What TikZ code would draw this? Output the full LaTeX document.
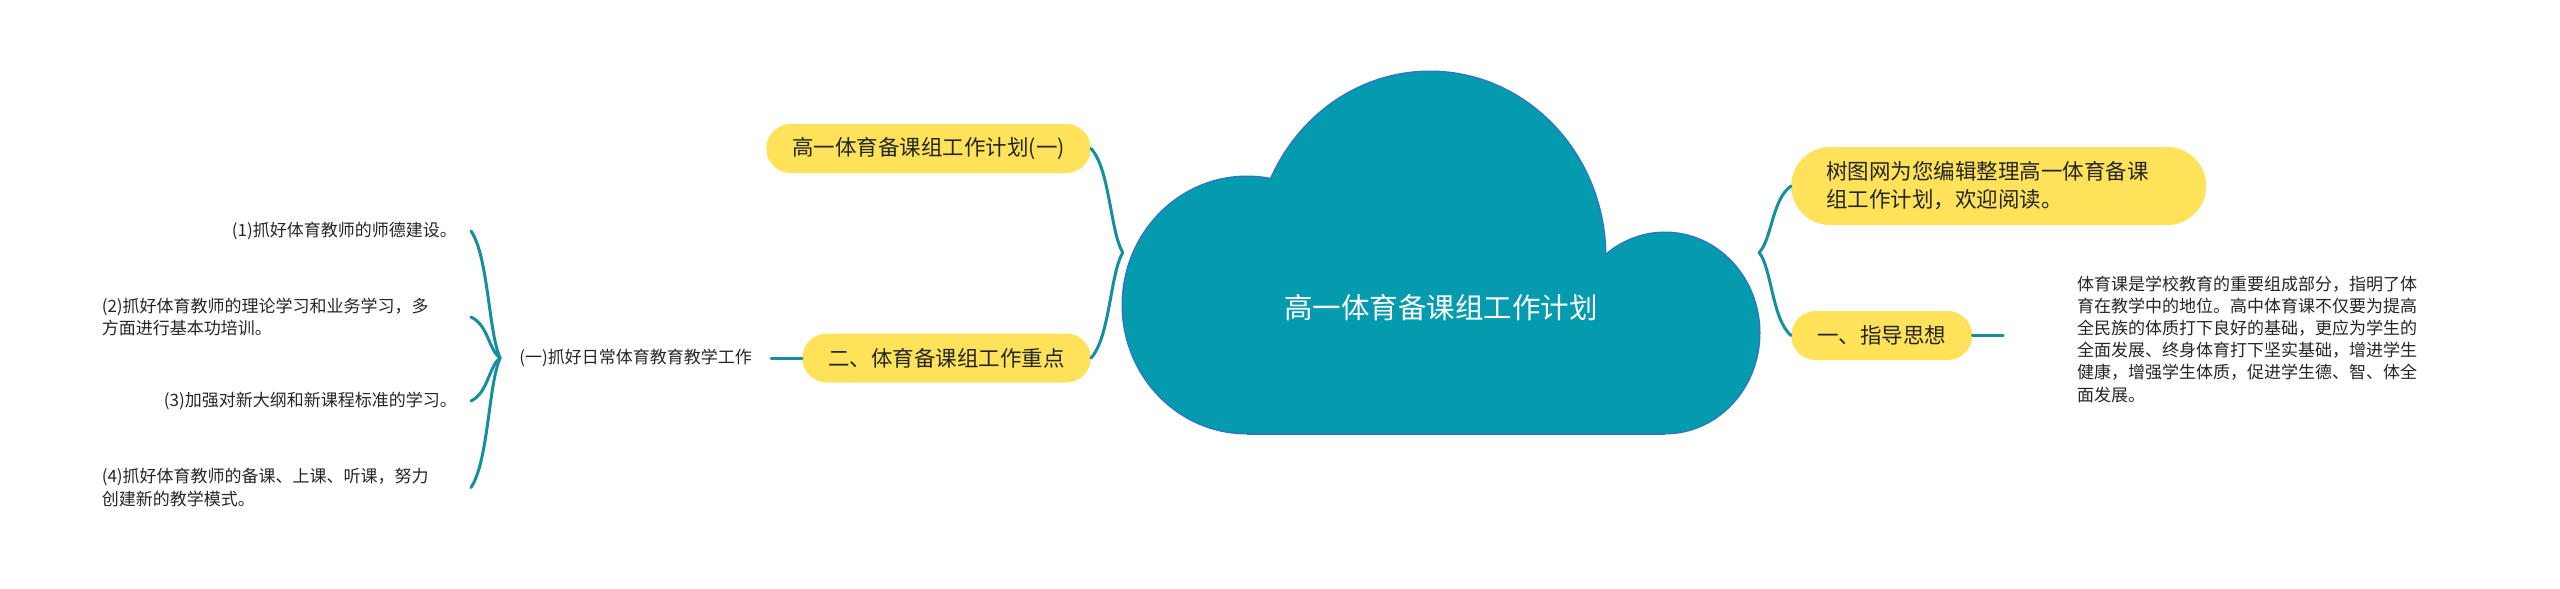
\documentclass[tikz,border=0pt]{standalone}
\usepackage{fontspec}
\usetikzlibrary{calc}
\newfontfamily\cjk{Noto Sans CJK SC}
\definecolor{linkteal}{RGB}{20,143,158}
\definecolor{cloudfill}{RGB}{4,155,174}
\definecolor{cloudedge}{RGB}{45,118,196}
\definecolor{topicyellow}{RGB}{253,226,90}
\definecolor{inktext}{RGB}{38,38,38}

% curved branch: #1 = junction, #2 = end at the child node
\newcommand{\bracelink}[2]{%
  \draw[link] let \p1=(#1), \p2=(#2) in
    (\p2) .. controls ({0.4*\x2+0.6*\x1},{0.8*\y2+0.2*\y1})
              and ({0.4*\x2+0.6*\x1},{0.2*\y2+0.8*\y1}) .. (\p1);}

\begin{document}
\begin{tikzpicture}[x=1pt,y=-1pt,
  link/.style={draw=linkteal,line width=3pt,line cap=round},
  topic/.style={fill=topicyellow,rounded corners=24.5pt,minimum height=49pt,
    inner xsep=26pt,inner ysep=0pt,text=inktext,
    font={\cjk\fontsize{21.5pt}{28pt}\selectfont}},
  leaf/.style={text=inktext,inner ysep=0pt,font={\cjk\fontsize{17pt}{22.2pt}\selectfont}},
  lobe/.style={draw=cloudedge,line width=3pt}]
\path[fill=white,use as bounding box] (0,0) rectangle (2560,589);

% cloud
\begin{scope}
  \clip (1100,60) rectangle (1780,434.5);
  \foreach \cx/\cy/\rx/\ry in {1247/305/124/128,1430/257/175/185,1665/333/94/100}
    \draw[lobe] (\cx,\cy) ellipse [x radius=\rx*1pt,y radius=\ry*1pt];
  \foreach \cx/\cy/\rx/\ry in {1247/305/124/128,1430/257/175/185,1665/333/94/100}
    \fill[cloudfill] (\cx,\cy) ellipse [x radius=\rx*1pt,y radius=\ry*1pt];
  \fill[cloudfill] (1247,300) rectangle (1665,433);
\end{scope}
\draw[draw=cloudedge,line width=1.5pt] (1247,433.75) -- (1665,433.75);

\node[minimum width=636pt,minimum height=361pt,inner sep=0pt] (root) at (1441,252.5) {};
\node[text=white,font={\cjk\fontsize{28.5pt}{34pt}\selectfont}] (rootlabel) at (1441,308) {高一体育备课组工作计划};

% left side
\node[topic,anchor=east] (plan) at (1091,148.5) {高一体育备课组工作计划(一)};
\node[topic,anchor=east] (focus) at (1091,358) {二、体育备课组工作重点};
\node[leaf,anchor=east,inner xsep=19pt] (daily) at (771,358) {(一)抓好日常体育教育教学工作};

\foreach \txt/\yy/\al [count=\i] in {
  {(1)抓好体育教师的师德建设。}/231/right,
  {(2)抓好体育教师的理论学习和业务学习，多\\方面进行基本功培训。}/317/left,
  {(3)加强对新大纲和新课程标准的学习。}/401/right,
  {(4)抓好体育教师的备课、上课、听课，努力\\创建新的教学模式。}/487.5/left} {
  \node[leaf,anchor=east,inner xsep=14pt,text width=355pt,align=\al] (item\i) at (471,\yy) {\txt};
  \bracelink{daily.west}{item\i.east}
}

% right side
\node[topic,anchor=west,align=left,text width=345pt,inner xsep=35pt,minimum height=78pt,
  rounded corners=39pt] (intro) at (1791,186) {树图网为您编辑整理高一体育备课\\组工作计划，欢迎阅读。};
\node[topic,anchor=west] (guide) at (1791,335.5) {一、指导思想};
\node[leaf,anchor=west,inner xsep=74pt,text width=345pt,align=left] (guidetext) at (2003,339)
  {体育课是学校教育的重要组成部分，指明了体\\育在教学中的地位。高中体育课不仅要为提高\\全民族的体质打下良好的基础，更应为学生的\\全面发展、终身体育打下坚实基础，增进学生\\健康，增强学生体质，促进学生德、智、体全\\面发展。};

\draw[link] (focus.west) -- (daily.east);
\draw[link] (guide.east) -- (guide.east -| guidetext.west);
\bracelink{root.west}{plan.east}
\bracelink{root.west}{focus.east}
\bracelink{root.east}{intro.west}
\bracelink{root.east}{guide.west}
\end{tikzpicture}
\end{document}
